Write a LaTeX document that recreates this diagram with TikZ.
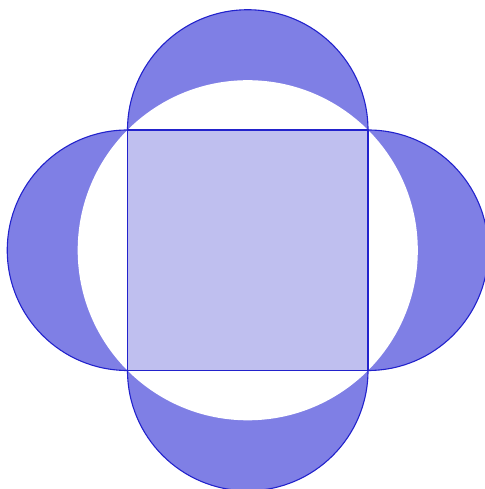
\documentclass[tikz,border=0pt]{standalone}
\usepackage{tikz}
\usetikzlibrary{calc}
\definecolor{LuneBlue}{HTML}{7F7FE5}
\definecolor{SquareBlue}{HTML}{BFBFEF}
\definecolor{EdgeBlue}{HTML}{2222CC}

\begin{document}
\begin{tikzpicture}[x=1pt,y=1pt,
        lune/.style={fill=LuneBlue,draw=none},
        edge/.style={draw=EdgeBlue,line width=1.1pt},
        sq/.style={fill=SquareBlue,draw=EdgeBlue,line width=1.1pt}]
        \useasboundingbox (0,0) rectangle (484,489);
        \coordinate (c) at (247.75,238.75);
        \coordinate (tl) at (127.5,359);
        \coordinate (tr) at (368,359);
        \coordinate (br) at (368,118.5);
        \coordinate (bl) at (127.5,118.5);
        % semicircles on the four sides
        \fill[lune] (tl) arc[start angle=180,end angle=0,radius=120.25] -- cycle;
        \fill[lune] (tr) arc[start angle=90,end angle=-90,radius=120.25] -- cycle;
        \fill[lune] (br) arc[start angle=0,end angle=-180,radius=120.25] -- cycle;
        \fill[lune] (bl) arc[start angle=-90,end angle=-270,radius=120.25] -- cycle;
        % circumscribed circle
        \fill[white] (c) circle[radius=170.06];
        \draw[sq] (tl) rectangle (br);
        \draw[edge] (tl) arc[start angle=180,end angle=0,radius=120.25];
        \draw[edge] (tr) arc[start angle=90,end angle=-90,radius=120.25];
        \draw[edge] (br) arc[start angle=0,end angle=-180,radius=120.25];
        \draw[edge] (bl) arc[start angle=-90,end angle=-270,radius=120.25];
      \end{tikzpicture}
\end{document}
